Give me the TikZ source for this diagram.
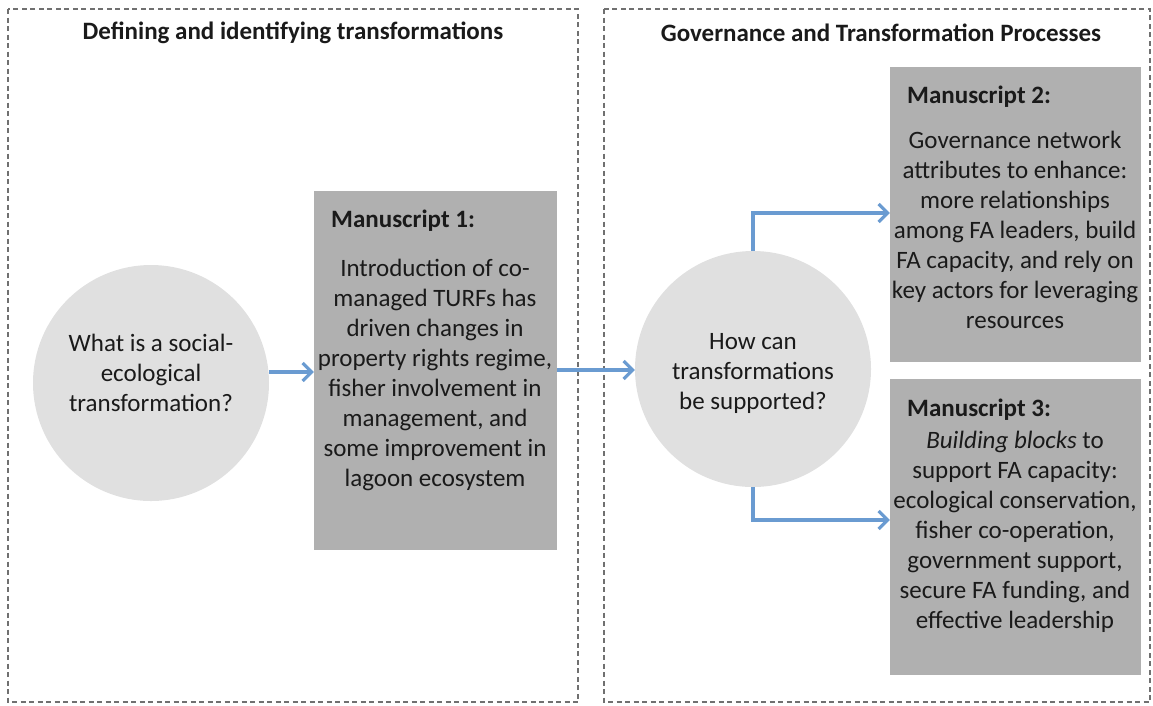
\documentclass[tikz,border=0pt]{standalone}
\usepackage{fontspec}
\setmainfont{Carlito}
\usetikzlibrary{arrows.meta, positioning}
\definecolor{CCircle}{HTML}{E0E0E0}
\definecolor{CBox}{HTML}{B0B0B0}
\definecolor{CArrow}{HTML}{6A9BD1}
\definecolor{CFrame}{HTML}{707070}
\definecolor{CText}{HTML}{1A1A1A}

\begin{document}
\begin{tikzpicture}[x=1pt, y=-1pt,
    frame/.style={draw=CFrame, line width=1.2pt, dash pattern=on 5pt off 3.5pt},
    title/.style={font=\fontsize{25}{30}\selectfont\bfseries, text=CText},
    question/.style={circle, fill=CCircle, minimum size=236pt, inner sep=0pt},
    msbox/.style={rectangle, fill=CBox, inner sep=0pt},
    heading/.style={anchor=north west, inner sep=0pt, font=\fontsize{25}{30}\selectfont\bfseries, text=CText},
    body/.style={anchor=north, inner sep=0pt, align=center, font=\fontsize{25}{30}\selectfont, text=CText},
    flow/.style={draw=CArrow, line width=3.2pt, -{Straight Barb[length=9pt, width=18pt, line width=3.2pt]}}]
    \useasboundingbox (0,0) rectangle (1153,705);

    % Panels
    \draw[frame] (8,9) rectangle (578,702);
    \draw[frame] (604,9) rectangle (1150,702);
    \node[title] (T1) at (293,33) {Defining and identifying transformations};
    \node[title] (T2) at (881,33) {Governance and Transformation Processes};

    % Left question
    \node[question] (Q1) at (151,383) {};
    \node[body] (Q1t) at (151,334) {What is a social-\\ecological\\transformation?};

    % Manuscript 1
    \node[msbox, minimum width=243pt, minimum height=359pt] (M1) at (435.5,370) {};
    \node[heading] (M1h) at (331,210) {Manuscript 1:};
    \node[body] (M1t) at (435,259) {Introduction of co-\\managed TURFs has\\driven changes in\\property rights regime,\\fisher involvement in\\management, and\\some improvement in\\lagoon ecosystem};

    % Right question
    \node[question] (Q2) at (753,369) {};
    \node[body] (Q2t) at (753,333) {How can\\transformations\\be supported?};

    % Manuscript 2
    \node[msbox, minimum width=251pt, minimum height=295pt] (M2) at (1015.5,214.5) {};
    \node[heading] (M2h) at (907,86) {Manuscript 2:};
    \node[body] (M2t) at (1015,131) {Governance network\\attributes to enhance:\\more relationships\\among FA leaders, build\\FA capacity, and rely on\\key actors for leveraging\\resources};

    % Manuscript 3
    \node[msbox, minimum width=251pt, minimum height=296pt] (M3) at (1015.5,527) {};
    \node[heading] (M3h) at (907,399) {Manuscript 3:};
    \node[body] (M3t) at (1015,431) {\textit{Building blocks} to\\support FA capacity:\\ecological conservation,\\fisher co-operation,\\government support,\\secure FA funding, and\\effective leadership};

    % Connectors
    \coordinate (up) at (753,213);
    \coordinate (down) at (753,520);
    \draw[flow] (Q1.east |- 0,372) -- (M1.west |- 0,372);
    \draw[flow] (M1.east |- 0,370) -- (Q2.west |- 0,370);
    \draw[flow] (Q2.north) -- (up) -- (M2.west |- up);
    \draw[flow] (Q2.south) -- (down) -- (M3.west |- down);
\end{tikzpicture}
\end{document}
